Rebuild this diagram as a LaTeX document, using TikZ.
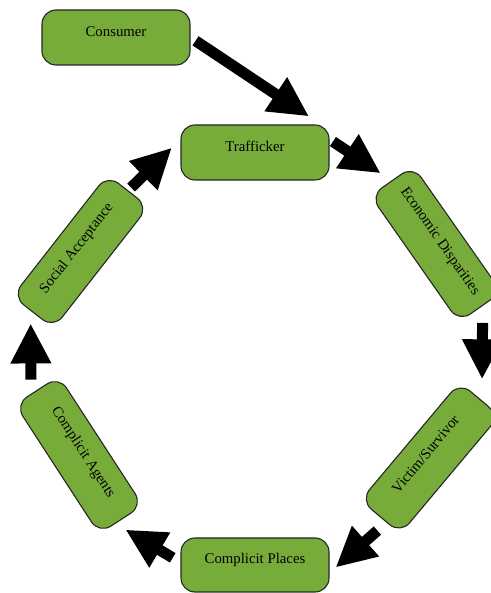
\documentclass[tikz,border=0pt]{standalone}
\usepackage{fontspec}
\setmainfont{Liberation Serif}
\usetikzlibrary{arrows.meta}
\definecolor{stagegreen}{RGB}{119,172,59}

\begin{document}
\begin{tikzpicture}[x=1pt,y=1pt,
	stage/.style={draw=black!85,line width=1.1pt,fill=stagegreen,rounded corners=14pt,
	minimum width=148pt,minimum height=55pt,inner sep=0pt,text height=10pt,text depth=12.2pt,
	font=\fontsize{14.8}{17}\selectfont},
	tilted/.style={stage,minimum width=154pt,minimum height=52pt},
	flow/.style={-{Triangle[width=38pt,length=40pt]},line width=11pt}]
\useasboundingbox (0,0) rectangle (490,593);
\node[stage] (consumer) at (116,555.5) {Consumer};
\node[stage] (trafficker) at (255,440.5) {Trafficker};
\node[tilted,rotate=-55] (econ) at (436,349) {Economic Disparities};
\node[tilted,rotate=50] (victim) at (430,135) {Victim/Survivor};
\node[stage,minimum height=54pt] (places) at (255,28) {Complicit Places};
\node[tilted,rotate=-57] (agents) at (79,138) {Complicit Agents};
\node[tilted,rotate=52] (social) at (80.5,341.5) {Social Acceptance};
\draw[flow,shorten <=6pt,shorten >=14.5pt] (consumer.east) -- (trafficker.23);
\draw[flow,shorten <=4pt,shorten >=13pt] (trafficker.10) -- (econ.west);
\draw[flow,shorten <=17pt,shorten >=21pt] (econ.2) -- (victim.-2);
\draw[flow,shorten <=12pt,shorten >=8pt] (victim.186) -- (places.-6);
\draw[flow,shorten <=9pt,shorten >=11.5pt] (places.178) -- (agents.-5);
\draw[flow,shorten <=14pt,shorten >=12.5pt] (agents.185) -- (social.178);
\draw[flow,shorten <=4pt,shorten >=12pt] (social.east) -- (trafficker.170);
\end{tikzpicture}
\end{document}
